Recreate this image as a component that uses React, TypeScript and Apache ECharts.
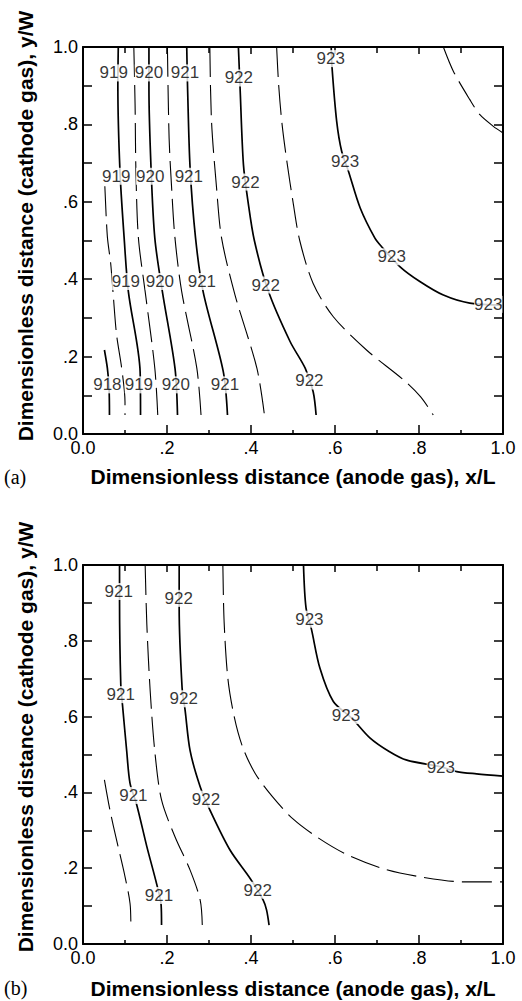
import React, { useEffect, useRef } from "react";
import * as echarts from "echarts";

// ---------- data: panel (a) contour lines [x/L, y/W] ----------
const a918 = [[0.051, 0.217], [0.058, 0.17], [0.062, 0.12], [0.063, 0.049]];
const a918_5 = [[0.052, 0.64], [0.058, 0.51], [0.066, 0.44], [0.072, 0.359], [0.08, 0.256], [0.092, 0.171], [0.1, 0.083], [0.1, 0.049]];
const a919 = [[0.084, 1.0], [0.083, 0.9], [0.088, 0.68], [0.098, 0.506], [0.108, 0.368], [0.136, 0.161], [0.137, 0.049]];
const a919_5 = [[0.121, 1.0], [0.124, 0.851], [0.126, 0.679], [0.132, 0.506], [0.148, 0.368], [0.171, 0.17], [0.178, 0.049]];
const a920 = [[0.157, 1.0], [0.157, 0.894], [0.162, 0.687], [0.171, 0.506], [0.189, 0.368], [0.219, 0.17], [0.225, 0.049]];
const a920_5 = [[0.201, 1.0], [0.205, 0.765], [0.211, 0.636], [0.219, 0.506], [0.235, 0.368], [0.271, 0.17], [0.281, 0.049]];
const a921 = [[0.247, 1.0], [0.249, 0.894], [0.255, 0.687], [0.268, 0.506], [0.286, 0.368], [0.334, 0.161], [0.344, 0.049]];
const a921_5 = [[0.302, 1.0], [0.306, 0.808], [0.318, 0.636], [0.33, 0.506], [0.362, 0.359], [0.414, 0.17], [0.432, 0.049]];
const a922 = [[0.37, 1.0], [0.374, 0.894], [0.382, 0.696], [0.393, 0.6], [0.408, 0.5], [0.441, 0.37], [0.493, 0.239], [0.529, 0.17], [0.548, 0.109], [0.555, 0.049]];
const a922_5 = [[0.461, 1.0], [0.466, 0.9], [0.474, 0.8], [0.486, 0.7], [0.5, 0.6], [0.516, 0.5], [0.548, 0.389], [0.596, 0.303], [0.675, 0.217], [0.763, 0.14], [0.804, 0.096], [0.834, 0.049]];
const a923 = [[0.591, 1.0], [0.593, 0.946], [0.604, 0.808], [0.616, 0.73], [0.632, 0.679], [0.66, 0.584], [0.695, 0.506], [0.711, 0.484], [0.755, 0.432], [0.802, 0.394], [0.858, 0.359], [0.921, 0.338], [1.0, 0.333]];
const a923_5 = [[0.858, 1.0], [0.882, 0.937], [0.921, 0.864], [0.945, 0.825], [0.977, 0.795], [1.0, 0.778]];

// labels of panel (a): [x, y, text]
const aLabels = [
  [0.073, 0.933, "919"], [0.157, 0.933, "920"], [0.243, 0.933, "921"], [0.371, 0.92, "922"], [0.59, 0.97, "923"],
  [0.079, 0.666, "919"], [0.16, 0.666, "920"], [0.252, 0.666, "921"], [0.387, 0.651, "922"], [0.624, 0.703, "923"],
  [0.102, 0.394, "919"], [0.183, 0.394, "920"], [0.283, 0.394, "921"], [0.435, 0.385, "922"], [0.735, 0.458, "923"],
  [0.058, 0.127, "918"], [0.133, 0.127, "919"], [0.221, 0.127, "920"], [0.338, 0.127, "921"], [0.539, 0.137, "922"], [0.965, 0.335, "923"],
];

// ---------- data: panel (b) ----------
const b920_5 = [[0.051, 0.433], [0.064, 0.354], [0.08, 0.274], [0.1, 0.178], [0.112, 0.107], [0.114, 0.05]];
const b921 = [[0.087, 1.0], [0.087, 0.904], [0.09, 0.684], [0.094, 0.631], [0.104, 0.51], [0.112, 0.424], [0.128, 0.367], [0.152, 0.257], [0.175, 0.16], [0.186, 0.103], [0.187, 0.05]];
const b921_5 = [[0.148, 1.0], [0.152, 0.843], [0.16, 0.667], [0.171, 0.508], [0.187, 0.38], [0.219, 0.283], [0.255, 0.195], [0.279, 0.116], [0.284, 0.05]];
const b922 = [[0.229, 1.0], [0.229, 0.887], [0.236, 0.675], [0.243, 0.618], [0.255, 0.51], [0.279, 0.415], [0.302, 0.354], [0.35, 0.248], [0.398, 0.173], [0.429, 0.116], [0.437, 0.09], [0.443, 0.05]];
const b922_5 = [[0.333, 1.0], [0.336, 0.85], [0.345, 0.7], [0.36, 0.6], [0.38, 0.52], [0.41, 0.45], [0.45, 0.39], [0.5, 0.33], [0.56, 0.28], [0.63, 0.235], [0.72, 0.197], [0.81, 0.176], [0.906, 0.164], [1.0, 0.164]];
const b923 = [[0.525, 1.0], [0.531, 0.887], [0.544, 0.83], [0.564, 0.728], [0.596, 0.64], [0.64, 0.596], [0.683, 0.544], [0.729, 0.508], [0.771, 0.485], [0.85, 0.468], [0.89, 0.455], [0.937, 0.449], [1.0, 0.443]];

const bLabels = [
  [0.085, 0.93, "921"], [0.09, 0.658, "921"], [0.12, 0.392, "921"], [0.181, 0.128, "921"],
  [0.228, 0.912, "922"], [0.24, 0.647, "922"], [0.293, 0.382, "922"], [0.416, 0.142, "922"],
  [0.539, 0.857, "923"], [0.626, 0.603, "923"], [0.852, 0.467, "923"],
];

const aSolid = [a918, a919, a920, a921, a922, a923];
const aDashed = [a918_5, a919_5, a920_5, a921_5, a922_5, a923_5];
const bSolid = [b921, b922, b923];
const bDashed = [b920_5, b921_5, b922_5];

const xTitle = "Dimensionless distance (anode gas), x/L";
const yTitle = "Dimensionless distance (cathode gas), y/W";

const SANS = "Arial, 'Liberation Sans', Helvetica, sans-serif";
const SERIF = "'Liberation Serif', 'Times New Roman', serif";

function fmt(v: number): string {
  const t = Math.round(v * 10);
  if (t === 0) return "0.0";
  if (t === 10) return "1.0";
  return "." + t;
}

export default function App() {
  const ref = useRef<HTMLDivElement>(null);
  useEffect(() => {
    document.body.style.margin = "0";
    if (!ref.current) return;
    const chart = echarts.init(ref.current, undefined, { renderer: "svg" });

    const grids = [
      { left: 83, top: 47, width: 420, height: 387 },
      { left: 83, top: 565, width: 420, height: 379 },
    ];

    const axisLine = { show: true, onZero: false, lineStyle: { color: "#000", width: 2 } };
    const xAxes: any[] = [];
    const yAxes: any[] = [];
    grids.forEach((_, g) => {
      ["bottom", "top"].forEach((pos) => {
        xAxes.push({
          type: "value", gridIndex: g, position: pos, min: 0, max: 1, interval: 0.2,
          axisLine,
          axisTick: { show: true, inside: true, length: pos === "bottom" ? 9 : 7, lineStyle: { color: "#000", width: 1.5 } },
          minorTick: { show: true, splitNumber: 2, length: pos === "bottom" ? 4 : 6, lineStyle: { color: "#000", width: 1.5 } },
          splitLine: { show: false },
          axisLabel: {
            show: pos === "bottom", formatter: fmt, color: "#000", fontSize: 18, fontFamily: SANS, margin: 5,
          },
        });
      });
      ["left", "right"].forEach((pos) => {
        yAxes.push({
          type: "value", gridIndex: g, position: pos, min: 0, max: 1, interval: 0.1,
          axisLine,
          axisTick: { show: true, inside: true, length: 9, lineStyle: { color: "#000", width: 1.5 } },
          splitLine: { show: false },
          axisLabel: {
            show: pos === "left", color: "#000", fontSize: 18, fontFamily: SANS, margin: 5,
            formatter: (v: number) => (Math.round(v * 10) % 2 === 1 ? "" : fmt(v)),
          },
        });
      });
    });

    const series: any[] = [];
    const addLines = (arr: number[][][], dashed: boolean, g: number) => {
      arr.forEach((d) => {
        series.push({
          type: "line", xAxisIndex: g * 2, yAxisIndex: g * 2, data: d, smooth: 0.3,
          symbol: "none", silent: true, z: 2,
          lineStyle: { color: "#000", width: dashed ? 1.1 : 1.7, type: dashed ? [30, 8] : "solid" },
        });
      });
    };
    addLines(aSolid, false, 0);
    addLines(aDashed, true, 0);
    addLines(bSolid, false, 1);
    addLines(bDashed, true, 1);

    const addLabels = (labels: any[], g: number) => {
      series.push({
        type: "scatter", xAxisIndex: g * 2, yAxisIndex: g * 2, data: labels, symbolSize: 1, z: 5, silent: true,
        itemStyle: { color: "rgba(0,0,0,0)" },
        label: {
          show: true, position: "inside", formatter: (p: any) => p.data[2], color: "#000",
          fontSize: 17, fontFamily: SANS, backgroundColor: "#fff", padding: [0, 0],
        },
      });
    };
    addLabels(aLabels, 0);
    addLabels(bLabels, 1);

    const titleFont = { fontSize: 21, fontWeight: "bold", fontFamily: SANS, fill: "#000" };
    const mid = { textAlign: "center", textVerticalAlign: "middle", align: "center", verticalAlign: "middle" };
    const graphic = [
      { type: "text", x: 293, y: 476, style: { text: xTitle, ...titleFont, ...mid } },
      { type: "text", x: 293, y: 988, style: { text: xTitle, ...titleFont, ...mid } },
      { type: "text", x: 25, y: 226, rotation: Math.PI / 2, style: { text: yTitle, ...titleFont, ...mid } },
      { type: "text", x: 25, y: 737, rotation: Math.PI / 2, style: { text: yTitle, ...titleFont, ...mid } },
      { type: "text", x: 4, y: 477, style: { text: "(a)", fontSize: 20, fontFamily: SERIF, fill: "#000", textVerticalAlign: "middle", verticalAlign: "middle" } },
      { type: "text", x: 4, y: 988, style: { text: "(b)", fontSize: 20, fontFamily: SERIF, fill: "#000", textVerticalAlign: "middle", verticalAlign: "middle" } },
    ];

    chart.setOption({
      animation: false,
      backgroundColor: "#fff",
      grid: grids,
      xAxis: xAxes,
      yAxis: yAxes,
      series,
      graphic,
    });
    return () => chart.dispose();
  }, []);
  return <div ref={ref} style={{ width: 522, height: 1001 }} />;
}
